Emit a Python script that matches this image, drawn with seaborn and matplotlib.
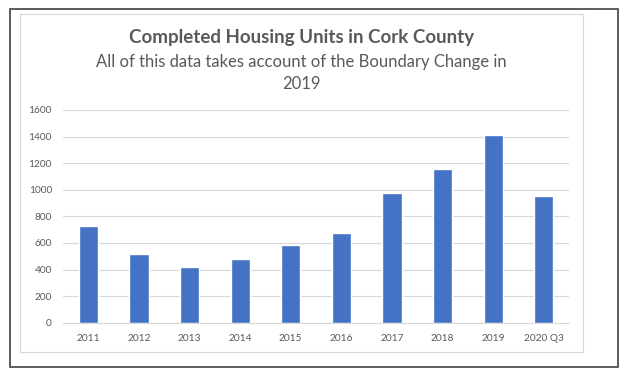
import matplotlib
matplotlib.use("Agg")
import matplotlib.pyplot as plt
import seaborn as sns
import pandas as pd
from matplotlib.patches import Rectangle

years = ['2011', '2012', '2013', '2014', '2015', '2016', '2017', '2018', '2019', '2020 Q3']
units = [725, 519, 417, 477, 584, 674, 975, 1154, 1411, 955]
y_ticks = [0, 200, 400, 600, 800, 1000, 1200, 1400, 1600]

df = pd.DataFrame({'year': years, 'units': units})

sns.set_theme(style='white')
plt.rcParams['font.family'] = ['Lato', 'DejaVu Sans']

grey = '#595959'
fig = plt.figure(figsize=(6.24, 3.75), dpi=100)
ax = fig.add_axes([0.101, 0.1395, 0.811, 0.5672])

sns.barplot(data=df, x='year', y='units', ax=ax, color='#4472C4', width=0.38,
            saturation=1)

ax.set_ylim(0, 1600)
ax.set_xlim(-0.5, len(years) - 0.5)
ax.set_yticks(y_ticks)
ax.yaxis.grid(True, color='#d9d9d9', linewidth=0.8)
ax.set_axisbelow(True)
for s in ['top', 'right', 'left']:
    ax.spines[s].set_visible(False)
ax.spines['bottom'].set_color('#d9d9d9')
ax.spines['bottom'].set_linewidth(0.8)
ax.tick_params(axis='both', length=0, labelsize=7.3, labelcolor=grey)
ax.tick_params(axis='x', pad=8)
ax.tick_params(axis='y', pad=8)
ax.set_xlabel('')
ax.set_ylabel('')

# outer frame and inner chart frame
fig.patches.append(Rectangle((10 / 624, 1 - 367 / 375), 608 / 624, 358 / 375,
                             transform=fig.transFigure, fill=False,
                             edgecolor='#404040', linewidth=1.2))
fig.patches.append(Rectangle((20 / 624, 1 - 352 / 375), 563 / 624, 338 / 375,
                             transform=fig.transFigure, fill=False,
                             edgecolor='#d9d9d9', linewidth=0.8))

cx = 301.5 / 624
fig.text(cx, 1 - 37 / 375, 'Completed Housing Units in Cork County', ha='center',
         va='center', fontsize=13.5, fontweight='bold', color=grey)
fig.text(cx, 1 - 73 / 375, 'All of this data takes account of the Boundary Change in\n2019',
         ha='center', va='center', fontsize=12, color=grey, linespacing=1.5)

fig.savefig('out.png', dpi=100)
